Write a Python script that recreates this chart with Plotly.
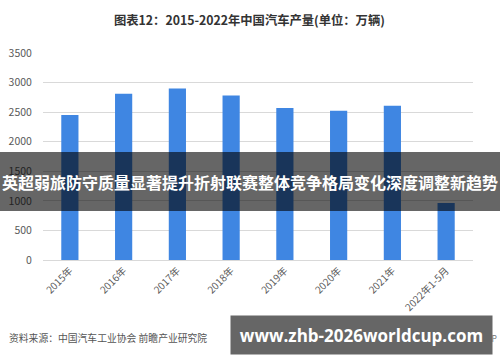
import plotly.graph_objects as go

categories = ["2015年", "2016年", "2017年", "2018年", "2019年", "2020年", "2021年", "2022年1-5月"]
production = [2450.3, 2811.9, 2901.5, 2780.9, 2572.1, 2522.5, 2608.2, 961.9]
y_ticks = [0, 500, 1000, 1500, 2000, 2500, 3000, 3500]

title_text = "图表12：2015-2022年中国汽车产量(单位：万辆)"
source_text = "资料来源：中国汽车工业协会 前瞻产业研究院"
app_text = "@前瞻经济学人APP"
band_text = "英超弱旅防守质量显著提升折射联赛整体竞争格局变化深度调整新趋势"
banner_text = "www.zhb-2026worldcup.com"

W, H = 500, 362
L, R, T, B = 43, 27, 53, 102
PW, PH = W - L - R, H - T - B

def px(x):
    return (x - L) / PW

def py(y):
    return (H - B - y) / PH

CJK = "Noto Sans CJK SC, Microsoft YaHei, sans-serif"

fig = go.Figure()
fig.add_trace(go.Bar(x=categories, y=production, marker=dict(color="#3f86e2", line=dict(width=0)),
                     hoverinfo="x+y"))

fig.update_layout(
    width=W, height=H,
    margin=dict(l=L, r=R, t=T, b=B, autoexpand=False),
    paper_bgcolor="white", plot_bgcolor="white",
    bargap=0.68,
    showlegend=False,
    hovermode=False,
    font=dict(family=CJK, color="#595959", size=10.5),
    xaxis=dict(tickangle=-45, tickfont=dict(size=10, color="#595959", family=CJK),
               showgrid=False, showline=True, linecolor="#d9d9d9", linewidth=1,
               ticks="", zeroline=False, automargin=False),
    yaxis=dict(range=[0, 3500], tickvals=y_ticks, ticktext=[str(v) for v in y_ticks],
               tickfont=dict(size=10.5, color="#595959", family=CJK),
               showgrid=True, gridcolor="#d9d9d9", gridwidth=1, zeroline=False,
               showline=False, ticks="outside", ticklen=8, tickcolor="rgba(0,0,0,0)",
               automargin=False),
)

# dark translucent band
fig.add_shape(type="rect", xref="paper", yref="paper",
              x0=px(0), x1=px(500), y0=py(211), y1=py(152),
              fillcolor="rgba(0,0,0,0.6)", line=dict(width=0), layer="above")

annotations = [
    dict(text="<b>" + title_text + "</b>", xref="paper", yref="paper", x=px(249), y=py(20),
         xanchor="center", yanchor="middle", showarrow=False,
         font=dict(size=12.3, color="#333333", family=CJK)),
    dict(text=source_text, xref="paper", yref="paper", x=px(7), y=py(338),
         xanchor="left", yanchor="middle", showarrow=False,
         font=dict(size=9.8, color="#555555", family=CJK)),
    dict(text=app_text, xref="paper", yref="paper", x=px(499), y=py(338),
         xanchor="right", yanchor="middle", showarrow=False,
         font=dict(size=8.5, color="#777777", family=CJK)),
    dict(text="<b>" + band_text + "</b>", xref="paper", yref="paper", x=px(250), y=py(182),
         xanchor="center", yanchor="middle", showarrow=False,
         font=dict(size=16, color="white", family=CJK)),
    dict(text="<b>" + banner_text + "</b>", xref="paper", yref="paper", x=px(230), y=py(315),
         xanchor="left", yanchor="top", showarrow=False, width=261, height=38,
         bgcolor="#666666", borderpad=0, align="center", valign="middle",
         font=dict(size=17, color="white", family="Open Sans, DejaVu Sans, sans-serif")),
]
fig.update_layout(annotations=annotations)

fig.write_html("out.html", config={"displayModeBar": False},
               post_script="document.body.style.margin='0';")
